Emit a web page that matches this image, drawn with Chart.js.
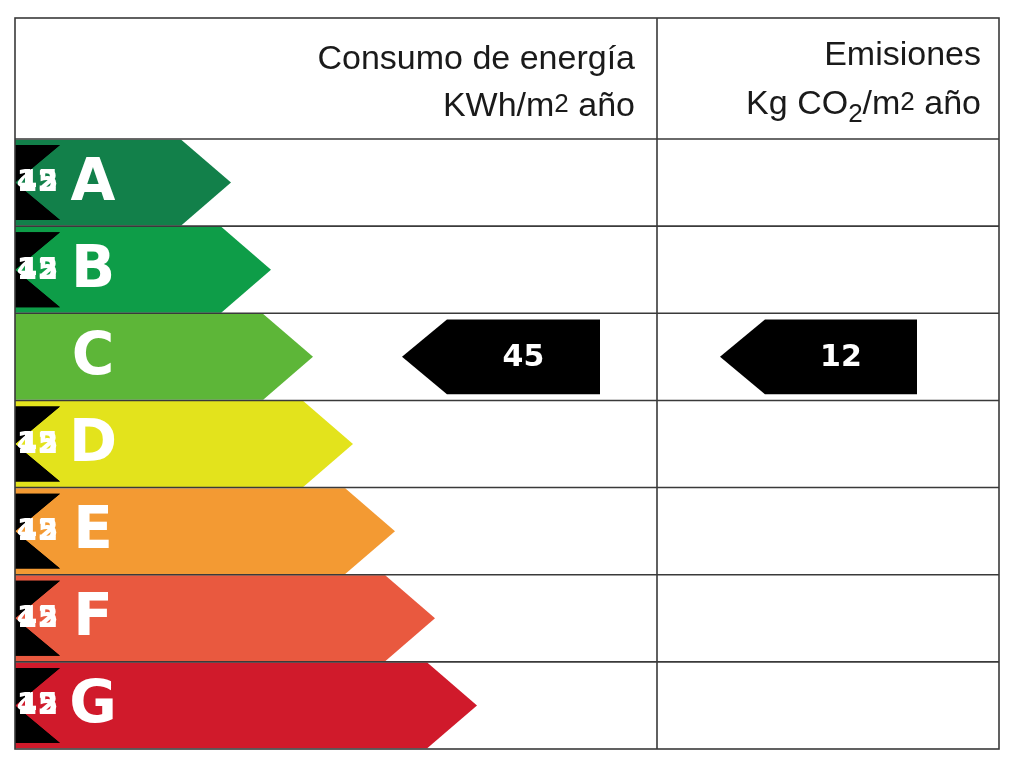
<!DOCTYPE html>
<html>
<head>
<meta charset="utf-8">
<script src="https://cdn.jsdelivr.net/npm/chart.js@4.4.1/dist/chart.umd.min.js"></script>
<style>
  html, body { margin: 0; padding: 0; background: #fff; }
  #wrap { width: 1020px; height: 765px; }
</style>
</head>
<body>
<div id="wrap"><canvas id="c" width="1020" height="765"></canvas></div>
<script>
// classes and arrow lengths (x units, table left edge = 0)
const classes = ['A', 'B', 'C', 'D', 'E', 'F', 'G'];
const arrowEnds = [216, 256, 298, 338, 380, 420, 462];
const classColors = ['#12804a', '#0e9d48', '#5db638', '#e3e31c', '#f39a33', '#e9593f', '#d01a2b'];

// rating indicators: [class, from, to, label]
const energyRating = { cls: 'C', range: [387, 585], label: '45' };
const emissionRating = { cls: 'C', range: [705, 902], label: '12' };
const dividerX = 642;

const FONT = '"Liberation Sans", Arial, sans-serif';

function drawRuns(ctx, runs, right, baseline) {
  // runs: [text, size, dy]
  let total = 0;
  runs.forEach(([t, s]) => { ctx.font = `${s}px ${FONT}`; total += ctx.measureText(t).width; });
  let x = right - total;
  ctx.textAlign = 'left';
  runs.forEach(([t, s, dy]) => {
    ctx.font = `${s}px ${FONT}`;
    ctx.fillText(t, x, baseline + dy);
    x += ctx.measureText(t).width;
  });
}

const labelPlugin = {
  id: 'label',
  afterDatasetsDraw(chart) {
    const { ctx, chartArea: a, scales: { x, y } } = chart;
    ctx.save();
    // arrows
    chart.data.datasets.forEach((ds, di) => {
      chart.getDatasetMeta(di).data.forEach((bar, i) => {
        const h = bar.height;
        const top = bar.y - h / 2, bot = bar.y + h / 2;
        ctx.beginPath();
        if (ds.pointLeft) {
          const d = h * 0.6;
          ctx.moveTo(bar.x, top);
          ctx.lineTo(bar.x, bot);
          ctx.lineTo(bar.base + d, bot);
          ctx.lineTo(bar.base, bar.y);
          ctx.lineTo(bar.base + d, top);
        } else {
          const d = h * 0.58;
          ctx.moveTo(bar.base, top);
          ctx.lineTo(bar.x - d, top);
          ctx.lineTo(bar.x, bar.y);
          ctx.lineTo(bar.x - d, bot);
          ctx.lineTo(bar.base, bot);
        }
        ctx.closePath();
        ctx.fillStyle = Array.isArray(ds.fillColors) ? ds.fillColors[i] : ds.fillColors;
        ctx.fill();
        ctx.fillStyle = '#fff';
        ctx.textAlign = 'center';
        ctx.textBaseline = 'middle';
        if (ds.pointLeft) {
          ctx.font = `bold 30px "DejaVu Sans", sans-serif`;
          ctx.fillText(ds.text, (bar.base + h * 0.6 + bar.x) / 2, bar.y + 1);
        } else {
          ctx.font = `bold 58px "DejaVu Sans", sans-serif`;
          ctx.fillText(classes[i], a.left + 78, bar.y + 2);
        }
      });
    });
    // table lines
    ctx.strokeStyle = '#3a3a3a';
    ctx.lineWidth = 1.6;
    const headTop = 18;
    ctx.strokeRect(a.left, headTop, a.right - a.left, a.bottom - headTop);
    const xd = x.getPixelForValue(dividerX);
    ctx.beginPath();
    ctx.moveTo(xd, headTop); ctx.lineTo(xd, a.bottom);
    ctx.moveTo(a.left, a.top); ctx.lineTo(a.right, a.top);
    for (let i = 1; i < classes.length; i++) {
      const yy = (y.getPixelForValue(i - 1) + y.getPixelForValue(i)) / 2;
      ctx.moveTo(a.left, yy); ctx.lineTo(a.right, yy);
    }
    ctx.stroke();
    // header
    ctx.fillStyle = '#1a1a1a';
    ctx.textBaseline = 'alphabetic';
    drawRuns(ctx, [['Consumo de energía', 34, 0]], xd - 22, 69);
    drawRuns(ctx, [['KWh/m', 34, 0], ['2', 26, -4], [' año', 34, 0]], xd - 22, 116);
    drawRuns(ctx, [['Emisiones', 34, 0]], a.right - 18, 65);
    drawRuns(ctx, [['Kg CO', 34, 0], ['2', 26, 8], ['/m', 34, 0], ['2', 26, -4], [' año', 34, 0]], a.right - 18, 114);
    ctx.restore();
  }
};

const ci = (c) => classes.indexOf(c);
const ratingData = (r) => classes.map((c) => (c === r.cls ? r.range : null));

new Chart(document.getElementById('c'), {
  type: 'bar',
  data: {
    labels: classes,
    datasets: [
      { data: arrowEnds, fillColors: classColors, backgroundColor: 'rgba(0,0,0,0)',
        barPercentage: 0.985, categoryPercentage: 1 },
      { data: ratingData(energyRating), fillColors: '#000', pointLeft: true, text: energyRating.label,
        backgroundColor: 'rgba(0,0,0,0)', barPercentage: 0.86, categoryPercentage: 1 },
      { data: ratingData(emissionRating), fillColors: '#000', pointLeft: true, text: emissionRating.label,
        backgroundColor: 'rgba(0,0,0,0)', barPercentage: 0.86, categoryPercentage: 1 },
    ],
  },
  options: {
    indexAxis: 'y',
    responsive: false,
    animation: false,
    grouped: false,
    layout: { padding: { left: 15, right: 21, top: 139, bottom: 16 } },
    plugins: { legend: { display: false }, tooltip: { enabled: false } },
    scales: {
      x: { type: 'linear', min: 0, max: 984, display: false },
      y: { display: false, offset: true },
    },
  },
  plugins: [labelPlugin],
});
</script>
</body>
</html>
